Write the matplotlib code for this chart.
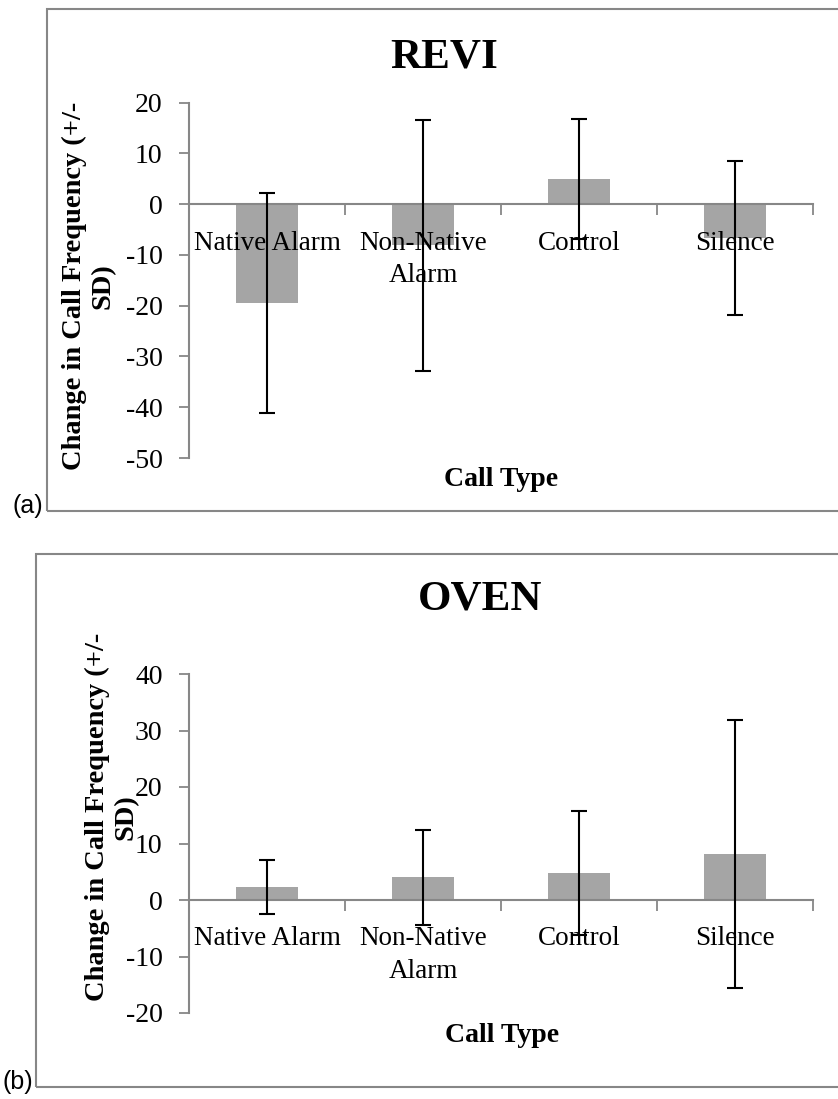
import matplotlib
matplotlib.use("Agg")
import matplotlib.pyplot as plt
from matplotlib.patches import Rectangle

categories = ["Native Alarm", "Non-Native\nAlarm", "Control", "Silence"]

revi_mean = [-19.5, -8.1, 4.9, -6.6]
revi_sd = [21.7, 24.7, 11.8, 15.2]

oven_mean = [2.3, 4.0, 4.8, 8.2]
oven_sd = [4.8, 8.4, 11.0, 23.7]

revi_ticks = [-50, -40, -30, -20, -10, 0, 10, 20]
oven_ticks = [-20, -10, 0, 10, 20, 30, 40]

SERIF = "Liberation Serif"
GREY = "#878787"
BAR = "#a5a5a5"

W, H = 838, 1099
fig = plt.figure(figsize=(W / 100, H / 100), dpi=100)


def fx(px):
    return px / W


def fy(py):
    return 1 - py / H


def panel(top_px, bot_px, means, sds, yticks):
    ax = fig.add_axes([fx(189), fy(bot_px), fx(813) - fx(189), fy(top_px) - fy(bot_px)])
    ax.set_axisbelow(False)  # category text sits over the bars, as in the original
    x = list(range(len(categories)))
    ax.bar(x, means, width=0.4, color=BAR, zorder=2)
    ax.errorbar(x, means, yerr=sds, fmt="none", ecolor="black",
                elinewidth=1.5, capsize=6, capthick=1.5, zorder=4)
    ax.set_xlim(-0.5, len(categories) - 0.5)
    ax.set_ylim(yticks[0], yticks[-1])
    ax.set_yticks(yticks)
    ax.set_yticklabels([str(t) for t in yticks], fontfamily=SERIF, fontsize=20)

    for s in ["top", "right"]:
        ax.spines[s].set_visible(False)
    ax.spines["left"].set_color(GREY)
    ax.spines["left"].set_linewidth(1.5)
    ax.spines["bottom"].set_color(GREY)
    ax.spines["bottom"].set_linewidth(1.5)
    ax.spines["bottom"].set_position(("data", 0))
    ax.spines["bottom"].set_zorder(3)

    ax.set_xticks([i - 0.5 for i in range(len(categories) + 1)])
    ax.set_xticklabels([])
    ax.set_xticks(x, minor=True)
    ax.set_xticklabels(categories, minor=True, fontfamily=SERIF, fontsize=19.5,
                       linespacing=1.4, va="top")
    ax.tick_params(axis="x", which="major", direction="out", length=8,
                   width=1.3, color=GREY)
    ax.tick_params(axis="x", which="minor", length=0, pad=19)
    ax.tick_params(axis="y", direction="out", length=7, width=1.3,
                   color=GREY, pad=12)
    ax.patch.set_alpha(0)
    return ax


panel(102.7, 458, revi_mean, revi_sd, revi_ticks)
panel(674, 1013, oven_mean, oven_sd, oven_ticks)

# chart frames
fig.patches.append(Rectangle((fx(47), fy(511)), 1.2, fy(9) - fy(511),
                             transform=fig.transFigure, fill=False,
                             edgecolor=GREY, linewidth=1.5))
fig.patches.append(Rectangle((fx(36), fy(1087)), 1.2, fy(554) - fy(1087),
                             transform=fig.transFigure, fill=False,
                             edgecolor=GREY, linewidth=1.5))

ylab = "Change in Call Frequency (+/-\nSD)"
fig.text(fx(444), fy(57), "REVI", ha="center", va="center",
         fontfamily=SERIF, fontweight="bold", fontsize=31)
fig.text(fx(480), fy(599), "OVEN", ha="center", va="center",
         fontfamily=SERIF, fontweight="bold", fontsize=31)
fig.text(fx(501), fy(480), "Call Type", ha="center", va="center",
         fontfamily=SERIF, fontweight="bold", fontsize=20)
fig.text(fx(502), fy(1035), "Call Type", ha="center", va="center",
         fontfamily=SERIF, fontweight="bold", fontsize=20)
fig.text(fx(89), fy(286), ylab, ha="center", va="center", rotation=90,
         multialignment="center", linespacing=1.2,
         fontfamily=SERIF, fontweight="bold", fontsize=20.5)
fig.text(fx(112), fy(817), ylab, ha="center", va="center", rotation=90,
         multialignment="center", linespacing=1.2,
         fontfamily=SERIF, fontweight="bold", fontsize=20.5)
fig.text(fx(28), fy(506), "(a)", ha="center", va="center",
         fontfamily="Liberation Sans", fontsize=18)
fig.text(fx(18), fy(1082), "(b)", ha="center", va="center",
         fontfamily="Liberation Sans", fontsize=18)

fig.savefig("out.png", dpi=100)
